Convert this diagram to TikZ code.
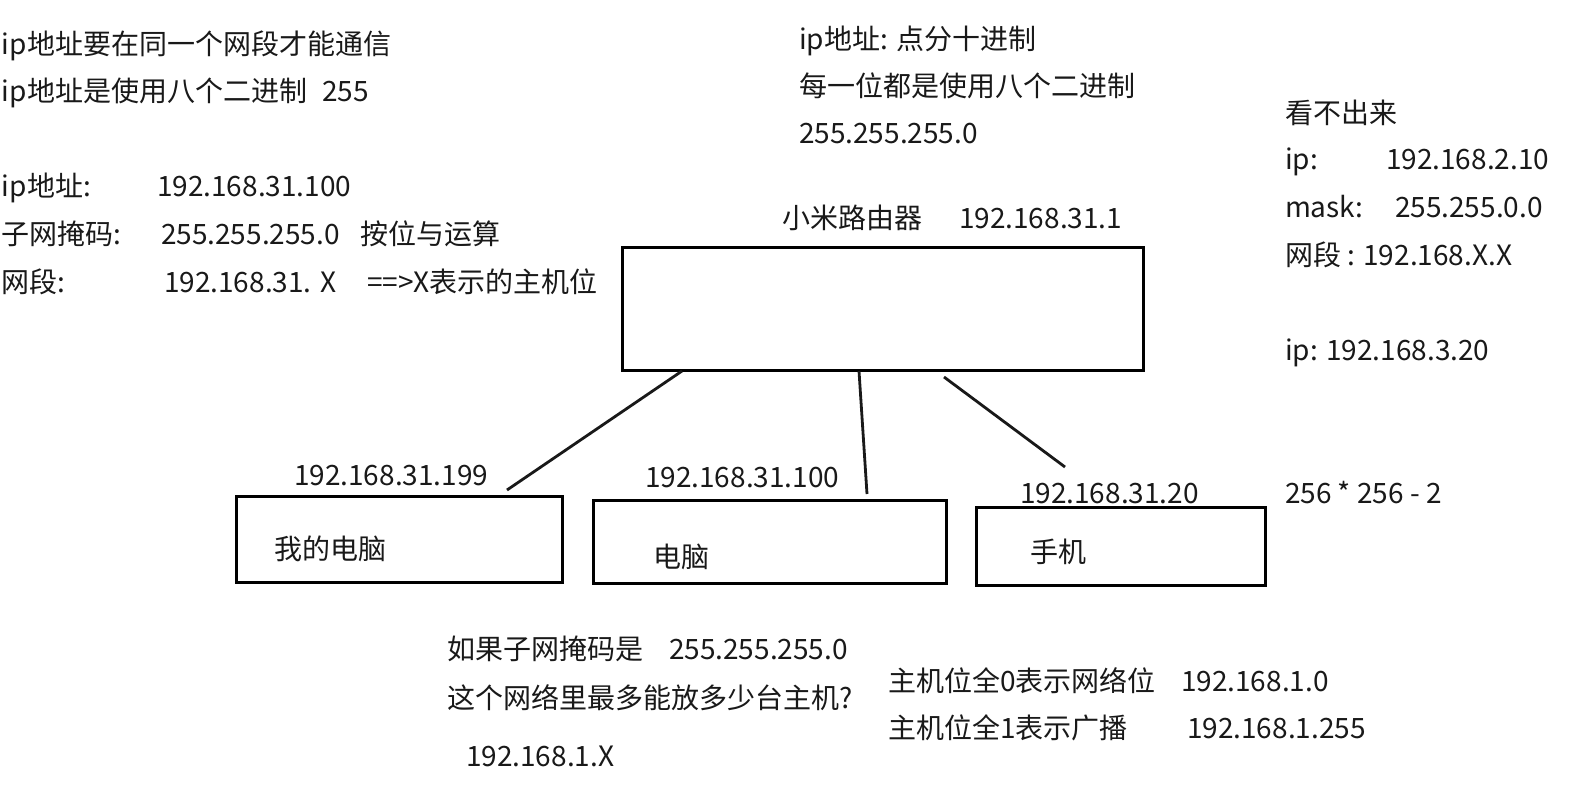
\documentclass[tikz,border=0pt]{standalone}
\usepackage{fontspec}
\setmainfont{Noto Sans CJK SC}
\usetikzlibrary{calc}
\tikzset{
  txt/.style={anchor=base west, inner sep=0pt, outer sep=0pt, yshift=-5.2pt, text=black!90, font=\fontsize{14pt}{17pt}\selectfont},
  devbox/.style={draw=black, line width=1.5pt, fill=white, inner sep=0pt, outer sep=0pt},
  link/.style={draw=black!90, line width=1.4pt},
}
\begin{document}
\begin{tikzpicture}[x=0.5pt,y=-0.5pt]
\fill[white] (0,0) rectangle (1590,800);
\useasboundingbox (0,0) rectangle (1590,800);

% boxes
\node[devbox, minimum width=260.5pt, minimum height=61.5pt] (router) at (882.5,308.5) {};
\node[devbox, minimum width=163pt, minimum height=43pt] (pc1) at (399,539) {};
\node[devbox, minimum width=176.5pt, minimum height=41.5pt] (pc2) at (769.5,541.5) {};
\node[devbox, minimum width=144.5pt, minimum height=39pt] (phone) at (1120.5,546) {};

% connectors
\draw[link] ($(router.south west)+(60,1)$) -- ($(pc1.north east)+(-55,-6)$);
\draw[link] ($(router.south west)+(237,1)$) -- ($(pc2.north east)+(-79,-6)$);
\draw[link] ($(router.south west)+(322,7)$) -- ($(phone.north west)+(89,-40)$);

% left column
\node[txt] (t1) at (2,44) {ip地址要在同一个网段才能通信};
\node[txt] (t2) at (2,91) {ip地址是使用八个二进制};
\node[txt] (t2b) at (322,91) {255};
\node[txt] (t3) at (2,186) {ip地址:};
\node[txt] (t3b) at (157,186) {192.168.31.100};
\node[txt] (t4) at (2,234) {子网掩码:};
\node[txt] (t4b) at (161,234) {255.255.255.0};
\node[txt] (t4c) at (360,234) {按位与运算};
\node[txt] (t5) at (2,282) {网段:};
\node[txt] (t5b) at (164,282) {192.168.31. X};
\node[txt] (t5c) at (367,282) {==>X表示的主机位};

% top middle
\node[txt] (m1) at (799,39) {ip地址: 点分十进制};
\node[txt] (m2) at (799,86) {每一位都是使用八个二进制};
\node[txt] (m3) at (799,133) {255.255.255.0};
\node[txt] (rl) at (782,218) {小米路由器};
\node[txt] (rip) at (959,218) {192.168.31.1};

% right column
\node[txt] (r1) at (1285,113) {看不出来};
\node[txt] (r2) at (1285,159) {ip:};
\node[txt] (r2b) at (1386,159) {192.168.2.10};
\node[txt] (r3) at (1285,207) {mask:};
\node[txt] (r3b) at (1395,207) {255.255.0.0};
\node[txt] (r4) at (1285,255) {网段 : 192.168.X.X};
\node[txt] (r5) at (1285,350) {ip: 192.168.3.20};
\node[txt] (r6) at (1285,493) {256 * 256 - 2};

% device labels
\node[txt] (ip1) at (294,475) {192.168.31.199};
\node[txt] (ip2) at (645,477) {192.168.31.100};
\node[txt] (ip3) at (1020,493) {192.168.31.20};
\node[txt] (n1) at (274,549) {我的电脑};
\node[txt] (n2) at (653,557) {电脑};
\node[txt] (n3) at (1030,552) {手机};

% bottom
\node[txt] (b1) at (447,649) {如果子网掩码是};
\node[txt] (b1b) at (669,649) {255.255.255.0};
\node[txt] (b2) at (447,698) {这个网络里最多能放多少台主机?};
\node[txt] (b3) at (466,756) {192.168.1.X};
\node[txt] (c1) at (888,681) {主机位全0表示网络位};
\node[txt] (c1b) at (1181,681) {192.168.1.0};
\node[txt] (c2) at (888,728) {主机位全1表示广播};
\node[txt] (c2b) at (1187,728) {192.168.1.255};
\end{tikzpicture}
\end{document}
